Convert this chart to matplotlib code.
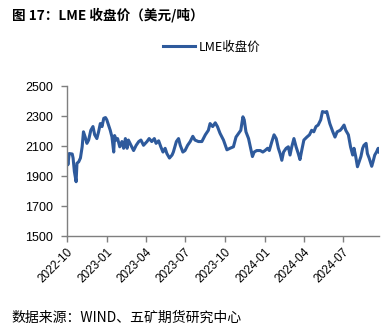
import numpy as np
import pandas as pd
import matplotlib
matplotlib.use('Agg')
from matplotlib import pyplot as plt

# day offsets from 2022-10-01 and LME closing price (USD/t)
start = '2022-10-01'
days = [0, 2, 5, 12, 14, 17, 21, 23, 27, 31, 35, 38, 42, 46, 50, 55, 60, 64, 69, 73,
        77, 81, 85, 89, 92, 96, 100, 104, 108, 110, 114, 117, 122, 127, 131, 135, 139,
        142, 148, 154, 160, 166, 171, 177, 185, 190, 196, 202, 206, 212, 217, 222, 227,
        231, 237, 243, 246, 253, 258, 262, 268, 273, 279, 285, 291, 296, 304,
        312, 320, 327, 331, 337, 343, 348, 354, 362, 370, 377, 385, 391, 397, 402, 407,
        410, 414, 420, 425, 429, 433, 439, 447, 453, 458, 464, 468, 474, 479, 484, 489,
        493, 497, 501, 507, 512, 516, 520, 525, 530, 535, 539, 543, 548, 555, 561, 566,
        571, 576, 581, 587, 591, 597, 601, 605, 608, 615, 620, 625, 632, 635, 641, 645,
        651, 656, 661, 664, 668, 672, 676, 680, 684, 687, 692, 695, 699, 705, 708, 712,
        716, 720, 722]
prices = [2030, 1975, 2050, 2047, 2020, 1930, 1862, 1985, 1995, 2020, 2095, 2195, 2160,
          2118, 2140, 2205, 2230, 2175, 2150, 2195, 2250, 2230, 2285, 2290, 2275, 2240,
          2205, 2160, 2060, 2170, 2140, 2150, 2095, 2130, 2085, 2150, 2085, 2140, 2105,
          2070, 2105, 2130, 2140, 2105, 2130, 2150, 2130, 2150, 2118, 2135, 2095, 2060,
          2085, 2050, 2020, 2040, 2060, 2130, 2150, 2105, 2060, 2070, 2105, 2130, 2165,
          2140, 2130,
          2130, 2175, 2205, 2250, 2230, 2255, 2230, 2185, 2140, 2075, 2085, 2095, 2160,
          2185, 2205, 2295, 2275, 2195, 2150, 2085, 2030, 2060, 2070, 2070, 2060, 2070,
          2085, 2070, 2130, 2175, 2150, 2085, 2050, 2005, 2060, 2085, 2095, 2040, 2095,
          2150, 2095, 2050, 2010, 2070, 2140, 2160, 2175, 2205, 2195, 2230, 2240, 2275,
          2330, 2325, 2330, 2285, 2250, 2195, 2160, 2195, 2205, 2215, 2240, 2205, 2175,
          2095, 2040, 2085, 2030, 1962, 1995, 2030, 2085, 2105, 2118, 2050, 2020, 1965,
          1995, 2040, 2060, 2085, 2060]
yticks = [1500, 1700, 1900, 2100, 2300, 2500]
xtick_labels = ['2022-10', '2023-01', '2023-04', '2023-07', '2023-10', '2024-01',
                '2024-04', '2024-07']

dates = pd.Timestamp(start) + pd.to_timedelta(days, unit='D')

plt.rcParams['font.family'] = ['Liberation Sans', 'Noto Sans CJK SC', 'DejaVu Sans']
cjk = ['Noto Sans CJK SC', 'DejaVu Sans']

fig = plt.figure(figsize=(3.92, 3.26), dpi=100)
ax = fig.add_axes([0.171, 0.276, 0.796, 0.46])

line_color = '#2E5A9C'
ax.plot(dates, prices, color=line_color, lw=2.2, label='LME收盘价')

ax.set_ylim(1500, 2500)
ax.set_yticks(yticks)
ax.set_xlim(dates[0], dates[-1])
ax.set_xticks(pd.to_datetime(xtick_labels))
ax.set_xticklabels(xtick_labels, rotation=45, ha='right', rotation_mode='anchor')

for side in ['top', 'right']:
    ax.spines[side].set_visible(False)
for side in ['left', 'bottom']:
    ax.spines[side].set_color('#7f7f7f')
    ax.spines[side].set_linewidth(1.0)
ax.tick_params(axis='both', colors='#7f7f7f', length=4, width=1.0,
               labelcolor='#000000')
ax.tick_params(axis='y', labelsize=9, pad=6)
ax.tick_params(axis='x', labelsize=8.5, pad=3)

fig.text(0.03, 0.955, '图 17：LME 收盘价（美元/吨）', family=cjk, fontsize=9.8,
         fontweight='bold', va='center', ha='left')
fig.legend(loc='center', bbox_to_anchor=(0.54, 0.856), frameon=False,
           prop={'family': cjk, 'size': 9}, handlelength=2.6, handletextpad=0.3)
fig.text(0.03, 0.025, '数据来源：WIND、五矿期货研究中心', family=cjk, fontsize=10,
         va='center', ha='left')

fig.savefig('out.png', dpi=100)
